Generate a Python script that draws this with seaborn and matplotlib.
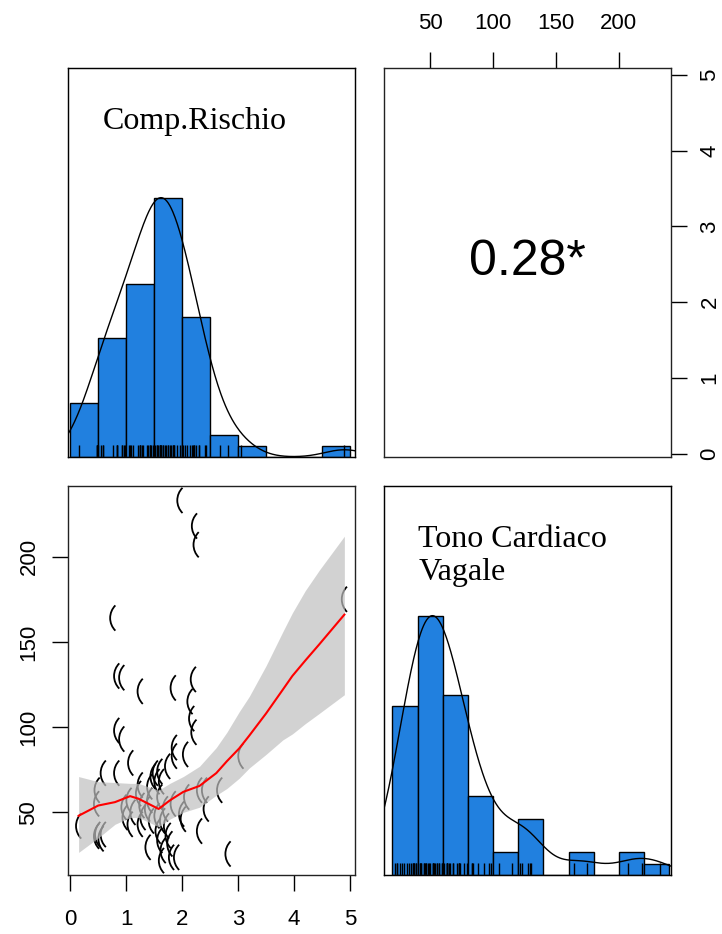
import matplotlib
matplotlib.use("Agg")
import matplotlib.pyplot as plt
from matplotlib.path import Path
import seaborn as sns
import pandas as pd
import numpy as np

# values (one pair per subject)
comp_rischio = [1.96, 2.22, 2.25, 4.90, 0.76, 0.83, 0.92, 1.25, 1.84, 2.20,
                2.14, 2.17, 2.21, 0.83, 0.92, 1.86, 1.86, 2.06, 3.05, 1.08,
                0.59, 0.83, 1.25, 1.52, 1.60, 1.55, 1.63, 1.42, 0.48, 1.22,
                2.31, 2.40, 2.67, 1.74, 1.48, 0.96, 1.28, 1.42, 1.60, 1.84,
                2.08, 0.15, 0.98, 1.07, 1.25, 1.72, 1.99, 2.02, 2.43, 0.47,
                1.05, 1.12, 1.30, 1.38, 1.45, 1.55, 1.65, 1.70, 0.49, 0.55,
                0.59, 1.39, 1.57, 1.60, 1.66, 1.75, 1.78, 1.81, 1.90, 1.63,
                2.31, 2.82, 0.47]
tono_vagale = [233, 218, 207, 175, 164, 130, 129, 121, 123, 128,
               115, 105, 97, 98, 93, 88, 83, 84, 83, 79,
               73, 73, 66, 73, 74, 68, 68, 65, 63, 61,
               63, 63, 63, 77, 71, 53, 54, 57, 59, 55,
               59, 42, 47, 43, 43, 42, 49, 46, 52, 55,
               57, 50, 47, 52, 45, 48, 45, 52, 37, 34.5,
               37, 29.5, 39, 33.5, 27.6, 36.4, 31.5, 23.6, 23.6, 21.7,
               39, 25.6, 36]

# loess smooth with its confidence band
fit_x = [0.15, 0.50, 0.80, 1.07, 1.22, 1.58, 1.78, 2.02, 2.31, 2.61, 2.80,
         3.02, 3.20, 3.50, 3.80, 3.97, 4.20, 4.45, 4.90]
fit_y = [48, 54, 56, 59.5, 58, 52, 57, 62, 65.5, 73, 80,
         87.5, 95, 108, 122, 130, 139, 148.5, 166]
fit_lo = [26.5, 35, 43, 47, 47, 41.5, 46, 50, 53, 60, 64,
          70, 76, 84, 92.5, 96, 102, 108, 119]
fit_hi = [71, 68, 67.5, 67, 67, 63, 67, 71, 77, 88, 97,
          109, 118, 136, 156, 167, 180, 192, 212]

risk_bins = np.arange(0, 5.01, 0.5)
tono_bins = np.arange(20, 241, 20)
r_label = "0.28*"
names = ["Comp.Rischio", "Tono Cardiaco\nVagale"]

df = pd.DataFrame({"risk": comp_rischio, "tono": tono_vagale})

plt.rcParams['font.family'] = ['Liberation Sans', 'DejaVu Sans']
hist_col = '#2180df'

# "(" shaped point symbol: a thin left-hand arc, centred on the point
arc = Path.arc(135, 225)
paren = Path(arc.vertices + [0.854, 0], arc.codes)


def rlim(v):
    v = np.asarray(v, float)
    pad = 0.04 * (v.max() - v.min())
    return v.min() - pad, v.max() + pad


def nrd0_factor(v):
    v = np.asarray(v, float)
    sd = v.std(ddof=1)
    iqr = np.subtract(*np.percentile(v, [75, 25]))
    bw = 0.9 * min(sd, iqr / 1.34) * len(v) ** -0.2
    return bw / sd


def diag_panel(ax, col, bins, label, lim):
    sns.histplot(data=df, x=col, bins=bins, stat='count', color=hist_col,
                 edgecolor='black', linewidth=1, alpha=1, ax=ax)
    top = max(p.get_height() for p in ax.patches)
    ax.set_ylim(0, top * 1.5)
    sns.rugplot(data=df, x=col, height=0.03, color='black', lw=0.6, ax=ax)
    tw = ax.twinx()
    sns.kdeplot(data=df, x=col, bw_method=nrd0_factor(df[col]), bw_adjust=1.4,
                cut=3, gridsize=512, color='black', lw=1, ax=tw)
    peak = tw.lines[-1].get_ydata().max()
    tw.set_ylim(0, peak * 1.5)
    tw.set_yticks([])
    tw.set_ylabel('')
    for a in (ax, tw):
        a.set_xlim(lim)
    ax.set_xticks([])
    ax.set_yticks([])
    ax.set_xlabel('')
    ax.set_ylabel('')
    ax.text(0.12, 0.90, label, transform=ax.transAxes, ha='left', va='top',
            family='Liberation Serif', fontsize=23, linespacing=1.2)


fig = plt.figure(figsize=(7.22, 9.34), dpi=100)
W, H = 722, 934
pw, ph = 287 / W, 389 / H
x0, x1 = 68 / W, 384 / W
y_top, y_bot = 1 - 457 / H, 1 - 875 / H

ax_tl = fig.add_axes([x0, y_top, pw, ph])
ax_tr = fig.add_axes([x1, y_top, pw, ph])
ax_bl = fig.add_axes([x0, y_bot, pw, ph])
ax_br = fig.add_axes([x1, y_bot, pw, ph])

risk_lim = rlim(comp_rischio)
tono_lim = rlim(tono_vagale)

diag_panel(ax_tl, "risk", risk_bins, names[0], risk_lim)
diag_panel(ax_br, "tono", tono_bins, names[1], tono_lim)

# scatter with loess smooth
sns.scatterplot(data=df, x="risk", y="tono", marker=paren, s=330,
                facecolor='none', edgecolor='black', linewidth=1.3,
                ax=ax_bl, zorder=2)
ax_bl.fill_between(fit_x, fit_lo, fit_hi, color='#c0c0c0', alpha=0.7, lw=0, zorder=3)
sns.lineplot(x=fit_x, y=fit_y, color='red', lw=1.5, ax=ax_bl, zorder=4)
ax_bl.set_xlim(risk_lim)
ax_bl.set_ylim(tono_lim)
ax_bl.set_xticks([0, 1, 2, 3, 4, 5])
ax_bl.set_yticks([50, 100, 150, 200])
ax_bl.set_xlabel('')
ax_bl.set_ylabel('')
plt.setp(ax_bl.get_yticklabels(), rotation=90, va='center')

# correlation panel
ax_tr.set_xlim(tono_lim)
ax_tr.set_ylim(risk_lim)
ax_tr.xaxis.tick_top()
ax_tr.yaxis.tick_right()
ax_tr.set_xticks([50, 100, 150, 200])
ax_tr.set_yticks([0, 1, 2, 3, 4, 5])
plt.setp(ax_tr.get_yticklabels(), rotation=90, va='center')
ax_tr.text(0.5, 0.5, r_label, transform=ax_tr.transAxes, ha='center',
           va='center', fontsize=36)

for a in (ax_bl, ax_tr):
    a.tick_params(length=11.5, width=1, labelsize=16, pad=13, colors='black')
    a.tick_params(axis='y', pad=9)

for a in (ax_tl, ax_tr, ax_bl, ax_br):
    for s in a.spines.values():
        s.set_linewidth(1)
        s.set_color('#222222')

fig.savefig("out.png", dpi=100)
